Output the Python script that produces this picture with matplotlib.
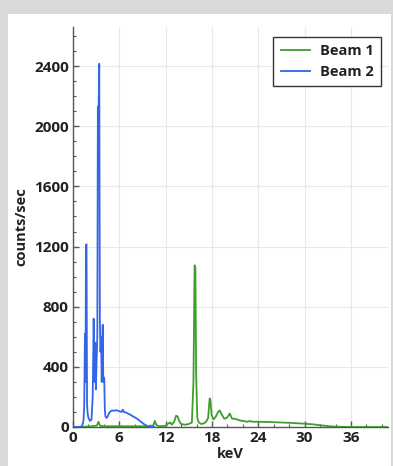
import matplotlib
matplotlib.use("Agg")
import matplotlib.pyplot as plt
from matplotlib.patches import Rectangle
from matplotlib.ticker import MultipleLocator

plt.rcParams['font.family'] = ['Open Sans', 'DejaVu Sans']

# Beam 2 (blue) spectrum
beam2_kev = [0, 1.0, 1.2, 1.35, 1.45, 1.55, 1.62, 1.68, 1.75, 1.82, 1.9, 2.0, 2.2, 2.4,
             2.55, 2.68, 2.78, 2.88, 2.96, 3.05, 3.15, 3.22, 3.32, 3.4, 3.48, 3.56,
             3.64, 3.72, 3.85, 3.92, 3.98, 4.05, 4.12, 4.2, 4.35, 4.5, 4.7, 5.0, 5.3,
             5.6, 6.0, 6.3, 6.45, 6.6, 6.9, 7.3, 7.8, 8.3, 8.8, 9.3, 9.7, 10.0, 10.5]
beam2_cps = [0, 0, 10, 40, 130, 620, 300, 1210, 1215, 150, 90, 60, 40, 50,
             200, 720, 300, 560, 250, 420, 600, 2130, 2130, 2415, 700, 500,
             600, 300, 680, 300, 330, 320, 120, 70, 60, 70, 95, 110, 108,
             112, 105, 100, 115, 100, 95, 85, 70, 55, 35, 15, 5, 0, 0]

# Beam 1 (green) spectrum
beam1_kev = [0, 1.5, 2.5, 3.1, 3.3, 3.5, 4, 6, 8, 10, 10.4, 10.6, 10.8, 11.2, 12, 12.4,
             12.6, 12.8, 13.1, 13.35, 13.55, 13.75, 14.0, 14.5, 15.0, 15.4, 15.6,
             15.75, 15.85, 15.95, 16.1, 16.3, 16.6, 17.0, 17.3, 17.5, 17.7, 17.8,
             17.95, 18.2, 18.5, 18.8, 19.0, 19.3, 19.6, 19.9, 20.2, 20.3, 20.6, 21.0,
             21.5, 22.0, 22.6, 22.9, 23.2, 24, 26, 28, 30, 31, 32, 33, 34, 36, 40.8]
beam1_cps = [0, 2, 5, 10, 35, 8, 5, 5, 5, 5, 10, 40, 12, 5, 8, 25,
             30, 15, 35, 75, 70, 40, 20, 15, 20, 30, 300,
             1075, 1060, 350, 60, 30, 20, 25, 40, 60, 190, 180,
             80, 50, 70, 100, 110, 80, 55, 60, 80, 90, 55, 55,
             45, 40, 35, 40, 35, 35, 32, 28, 22, 18, 12, 6, 2, 0, 0]

x_ticks = [0, 6, 12, 18, 24, 30, 36]
y_ticks = [0, 400, 800, 1200, 1600, 2000, 2400]

fig = plt.figure(figsize=(3.93, 4.66), dpi=100)
fig.patch.set_facecolor('#d9d9d9')
fig.patches.append(Rectangle((8/393, 0), (391-8)/393, (466-14)/466,
                             transform=fig.transFigure, facecolor='white',
                             edgecolor='none', zorder=-10))

ax = fig.add_axes([73/393, 1-427/466, (388-73)/393, (427-27)/466])
ax.set_facecolor('white')

ax.plot(beam1_kev, beam1_cps, color='#3c9f2b', lw=1.3, label='Beam 1', zorder=3)
ax.plot(beam2_kev, beam2_cps, color='#3366e6', lw=1.3, label='Beam 2', zorder=4)

ax.set_xlim(0, 40.8)
ax.set_ylim(0, 2660)
ax.set_xticks(x_ticks)
ax.set_yticks(y_ticks)
ax.xaxis.set_minor_locator(MultipleLocator(2))
ax.yaxis.set_minor_locator(MultipleLocator(100))

ax.grid(True, which='major', color='#e8e8e8', lw=0.8)
ax.set_axisbelow(True)
for s in ['top', 'right']:
    ax.spines[s].set_visible(False)
for s in ['left', 'bottom']:
    ax.spines[s].set_color('#555555')
    ax.spines[s].set_linewidth(1.0)

ax.tick_params(which='major', direction='in', length=4, width=1, color='#555555',
               labelsize=11, labelcolor='#222222', pad=3)
ax.tick_params(which='minor', direction='in', length=2.5, width=0.8, color='#555555')
for lab in ax.get_xticklabels() + ax.get_yticklabels():
    lab.set_fontweight('bold')

ax.set_xlabel('keV', fontsize=10.5, fontweight='bold', color='#222222', labelpad=1)
ax.set_ylabel('counts/sec', fontsize=10.5, fontweight='bold', color='#222222', labelpad=4)

leg = ax.legend(loc='upper right', bbox_to_anchor=(381/393, 1-37/466),
                bbox_transform=fig.transFigure, fancybox=False, framealpha=1,
                edgecolor='#333333', fontsize=10.5, handlelength=2.0,
                borderpad=0.5, labelspacing=0.45, handletextpad=0.7,
                borderaxespad=0)
leg.get_frame().set_linewidth(1.0)
for t in leg.get_texts():
    t.set_fontweight('bold')
    t.set_color('#222222')

fig.savefig('out.png', dpi=100, facecolor=fig.get_facecolor())
